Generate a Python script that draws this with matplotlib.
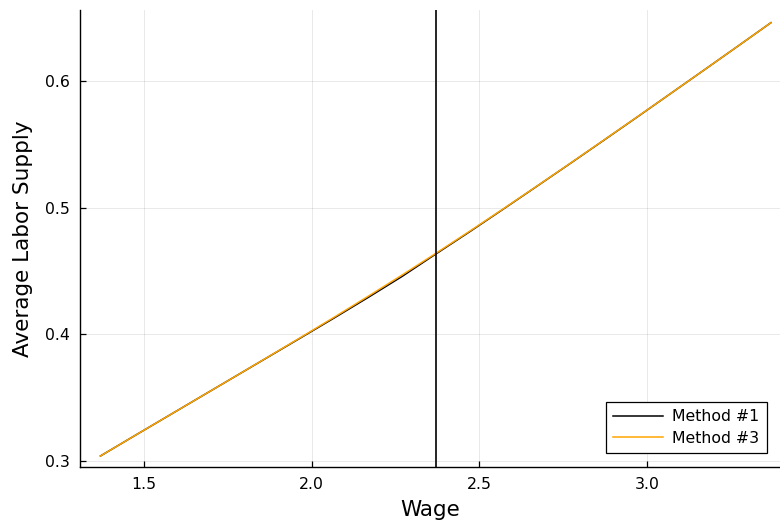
import matplotlib
matplotlib.use("Agg")
import matplotlib.pyplot as plt

wage = [1.37, 1.47, 1.57, 1.67, 1.77, 1.87, 1.97, 2.07, 2.17, 2.27, 2.37,
        2.47, 2.57, 2.67, 2.77, 2.87, 2.97, 3.07, 3.17, 3.27, 3.37]
method1 = [0.3040, 0.3197, 0.3353, 0.3509, 0.3665, 0.3821, 0.3977, 0.4134,
           0.4294, 0.4458, 0.4634, 0.4808, 0.4986, 0.5166, 0.5347, 0.5530,
           0.5714, 0.5900, 0.6086, 0.6273, 0.6461]
method3 = [0.3040, 0.3197, 0.3353, 0.3509, 0.3665, 0.3822, 0.3980, 0.4140,
           0.4303, 0.4469, 0.4639, 0.4812, 0.4988, 0.5167, 0.5348, 0.5531,
           0.5715, 0.5900, 0.6086, 0.6273, 0.6461]
vline_x = 2.371
xticks = [1.5, 2.0, 2.5, 3.0]
yticks = [0.3, 0.4, 0.5, 0.6]

fig = plt.figure(figsize=(7.8, 5.25), dpi=100)
ax = fig.add_axes([80/780, 58/525, 700/780, 457/525])

ax.plot(wage, method1, color="black", lw=1.1, label="Method #1")
ax.plot(wage, method3, color="#FFA500", lw=1.1, label="Method #3")
ax.axvline(vline_x, color="black", lw=1.2)

ax.set_xlim(1.309, 3.397)
ax.set_ylim(0.2953, 0.6561)
ax.set_xticks(xticks)
ax.set_xticklabels([f"{t:.1f}" for t in xticks])
ax.set_yticks(yticks)
ax.set_yticklabels([f"{t:.1f}" for t in yticks])
ax.grid(True, color="black", alpha=0.1, lw=0.6)
ax.set_axisbelow(True)
for s in ["top", "right"]:
    ax.spines[s].set_visible(False)
for s in ["left", "bottom"]:
    ax.spines[s].set_linewidth(1.0)
ax.tick_params(direction="in", length=4, width=0.9, labelsize=11.3, pad=7)
ax.set_xlabel("Wage", fontsize=15.5, labelpad=6)
ax.set_ylabel("Average Labor Supply", fontsize=15.5, labelpad=9)

leg = ax.legend(loc="lower right", bbox_to_anchor=(0.981, 0.031), borderaxespad=0,
                fontsize=11.3, fancybox=False, framealpha=1, edgecolor="black",
                handlelength=3.2, handletextpad=0.6, borderpad=0.45, labelspacing=0.4)
leg.get_frame().set_linewidth(0.9)

fig.savefig("out.png", dpi=100)
